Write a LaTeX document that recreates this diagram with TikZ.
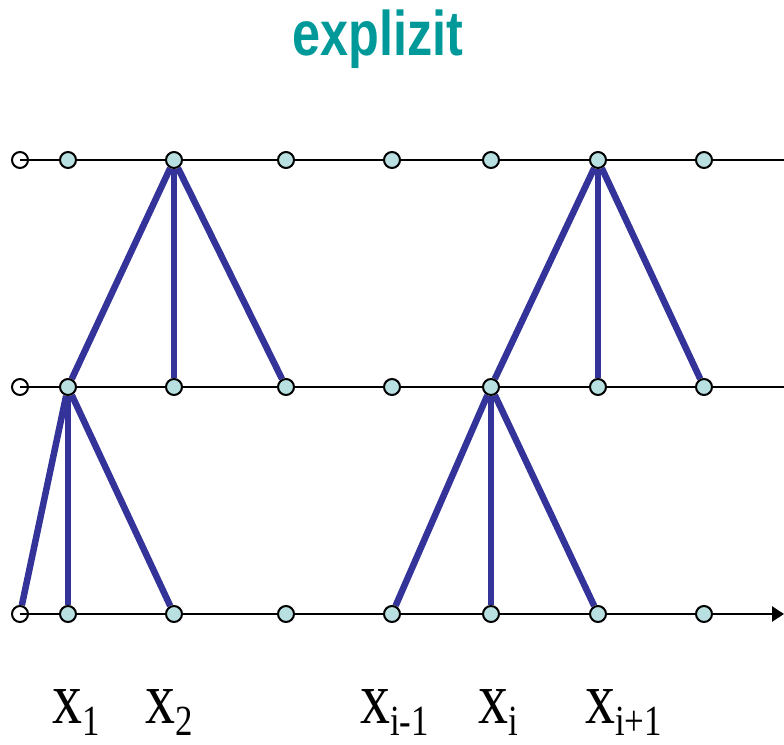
\documentclass[tikz,border=0pt]{standalone}
\usepackage{fontspec}
\setmainfont{Liberation Serif}
\setsansfont{Liberation Sans}
\usepackage{tikz}
\usetikzlibrary{arrows.meta,backgrounds}
\definecolor{stencilblue}{HTML}{333399}
\definecolor{ptcyan}{HTML}{B8E0E0}
\definecolor{titleteal}{HTML}{00999A}
\newcommand{\xlab}[1]{\scalebox{0.81}[1]{\fontsize{74}{80}\selectfont x\raisebox{-12pt}[\height][0pt]{\fontsize{43}{48}\selectfont #1}}}

\begin{document}
\begin{tikzpicture}[x=1pt,y=-1pt,
		gridpt/.style={circle, draw, line width=2pt, fill=ptcyan,
			minimum size=16pt, inner sep=0pt},
		endpt/.style={gridpt, fill=white},
		stencil/.style={line width=6.5pt, stencilblue},
		axis/.style={line width=2.6pt}]
		\useasboundingbox (0,0) rectangle (784,744);
		% title
		\node[anchor=base, text=titleteal,
			font=\sffamily\bfseries\fontsize{63}{70}\selectfont]
		(title) at (378,55) {\scalebox{0.8}[1]{explizit}};
		% time levels: open end points and axes
		\foreach \r/\y in {t/160, m/387, b/614}
			{\node[endpt] (\r0) at (20,\y) {};
				\coordinate (\r-end) at (784,\y);}
		\draw[axis] (t0.center) -- (t-end);
		\draw[axis] (m0.center) -- (m-end);
		\draw[axis, -{Triangle[length=12pt,width=15pt]}] (b0.center) -- (b-end);
		% grid points
		\foreach \r/\y in {t/160, m/387, b/614}
			\foreach \i/\x in {1/68, 2/174, 3/286, 4/392, 5/491, 6/598, 7/704}
				\node[gridpt] (\r\i) at (\x,\y) {};
		% stencils
		\begin{pgfonlayer}{background}
			\draw[stencil] (m1) -- (t2) -- (m3);
			\draw[stencil] (t2) -- (m2);
			\draw[stencil] (m5) -- (t6) -- (m7);
			\draw[stencil] (t6) -- (m6);
			\draw[stencil] (b0) -- (m1) -- (b2);
			\draw[stencil] (m1) -- (b1);
			\draw[stencil] (b4) -- (m5) -- (b6);
			\draw[stencil] (m5) -- (b5);
		\end{pgfonlayer}
		% x labels
		\node[anchor=base west, inner sep=0pt] (lab1) at (52,723) {\xlab{1}};
		\node[anchor=base west, inner sep=0pt] (lab2) at (145,723) {\xlab{2}};
		\node[anchor=base west, inner sep=0pt] (labim) at (360,723) {\xlab{i-1}};
		\node[anchor=base west, inner sep=0pt] (labi) at (478,723) {\xlab{i}};
		\node[anchor=base west, inner sep=0pt] (labip) at (585,723) {\xlab{i+1}};
	\end{tikzpicture}
\end{document}
